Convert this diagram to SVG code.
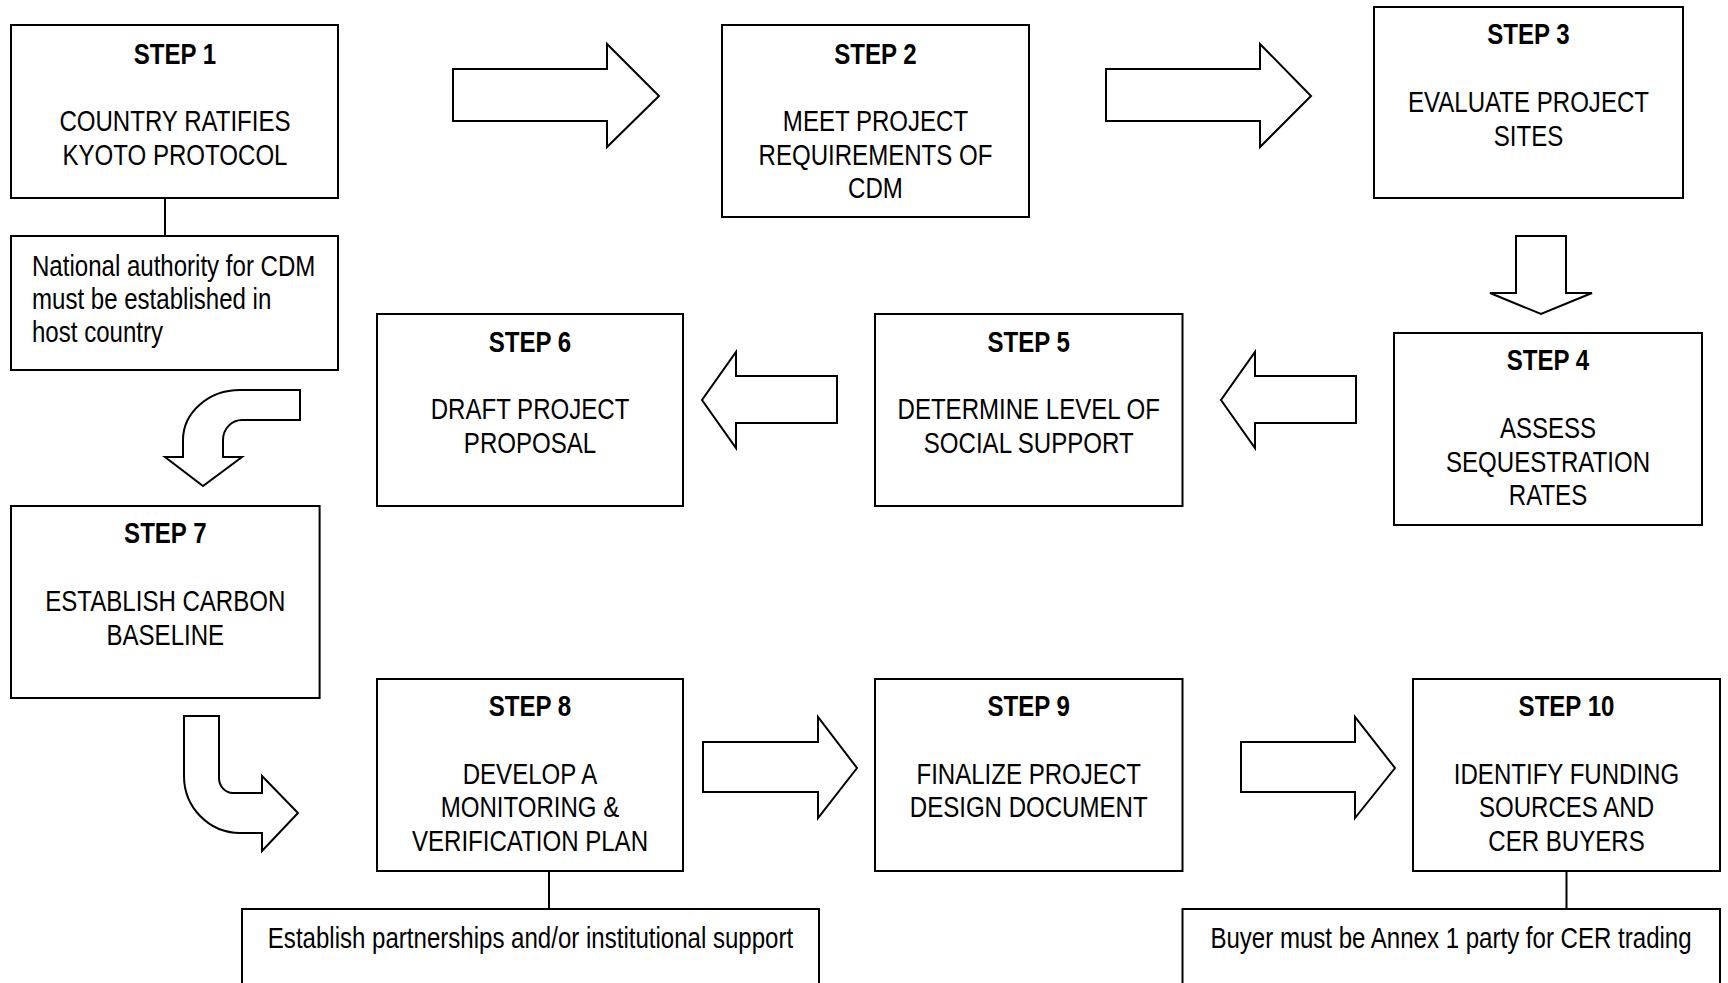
<svg xmlns="http://www.w3.org/2000/svg" width="1728" height="983" viewBox="0 0 1728 983">
<style>
.box{fill:#fff;stroke:#000;stroke-width:2}
.arr{fill:#fff;stroke:#000;stroke-width:2;stroke-linejoin:miter}
.ln{stroke:#000;stroke-width:2;fill:none}
text{font-family:"Liberation Sans",Arial,sans-serif;font-size:29px;fill:#000}
.t{text-anchor:middle}
.b{font-weight:bold}
</style>
<rect width="1728" height="983" fill="#fff"/>
<g id="connectors">
<line class="ln" x1="165" y1="198" x2="165" y2="236"/>
<line class="ln" x1="549" y1="871" x2="549" y2="909"/>
<line class="ln" x1="1566.5" y1="871" x2="1566.5" y2="909"/>
<polygon class="arr" points="453,69 607,69 607,44 659,96 607,147 607,121 453,121"/>
<polygon class="arr" points="1106,69 1260,69 1260,44 1311,96 1260,147 1260,121 1106,121"/>
<polygon class="arr" points="1516,236 1566,236 1566,293 1592,293 1541,314 1490,293 1516,293"/>
<polygon class="arr" points="1356,376 1255,376 1255,352 1221,400 1255,448 1255,423 1356,423"/>
<polygon class="arr" points="837,376 736,376 736,352 702,400 736,448 736,423 837,423"/>
<polygon class="arr" points="703,742 818,742 818,717 857,768 818,818 818,792 703,792"/>
<polygon class="arr" points="1241,742 1355,742 1355,717 1395,768 1355,818 1355,792 1241,792"/>
<path class="arr" d="M300,390 L240,390 A57,50 0 0 0 183,440 L183,457 L165,457 L203,486 L242,457 L223,457 L223,440 A19,20 0 0 1 242,420 L300,420 Z"/>
<path class="arr" d="M184,716 L219,716 L219,778 A14,15 0 0 0 233,793 L262,793 L262,776 L298,813 L262,851 L262,833 L240,833 A56,57 0 0 1 184,776 Z"/>
</g>
<g id="step1">
<rect class="box" x="11" y="25" width="327" height="173"/>
<g transform="translate(175,0) scale(0.83,1)">
<text class="t b" x="0" y="64">STEP 1</text>
<text class="t" x="0" y="131">COUNTRY RATIFIES</text>
<text class="t" x="0" y="165">KYOTO PROTOCOL</text>
</g>
</g>
<g id="note1">
<rect class="box" x="11" y="236" width="327" height="134"/>
<g transform="translate(32,0) scale(0.83,1)">
<text x="0" y="276">National authority for CDM</text>
<text x="0" y="309">must be established in</text>
<text x="0" y="342">host country</text>
</g>
</g>
<g id="step2">
<rect class="box" x="722" y="25" width="307" height="192"/>
<g transform="translate(875.5,0) scale(0.83,1)">
<text class="t b" x="0" y="64">STEP 2</text>
<text class="t" x="0" y="131">MEET PROJECT</text>
<text class="t" x="0" y="165">REQUIREMENTS OF</text>
<text class="t" x="0" y="198">CDM</text>
</g>
</g>
<g id="step3">
<rect class="box" x="1374" y="7" width="309" height="191"/>
<g transform="translate(1528.5,0) scale(0.83,1)">
<text class="t b" x="0" y="44">STEP 3</text>
<text class="t" x="0" y="112">EVALUATE PROJECT</text>
<text class="t" x="0" y="146">SITES</text>
</g>
</g>
<g id="step4">
<rect class="box" x="1394" y="333" width="308" height="192"/>
<g transform="translate(1548,0) scale(0.83,1)">
<text class="t b" x="0" y="370">STEP 4</text>
<text class="t" x="0" y="438">ASSESS</text>
<text class="t" x="0" y="472">SEQUESTRATION</text>
<text class="t" x="0" y="505">RATES</text>
</g>
</g>
<g id="step5">
<rect class="box" x="875" y="314" width="307.5" height="192"/>
<g transform="translate(1028.7,0) scale(0.83,1)">
<text class="t b" x="0" y="352">STEP 5</text>
<text class="t" x="0" y="419">DETERMINE LEVEL OF</text>
<text class="t" x="0" y="453">SOCIAL SUPPORT</text>
</g>
</g>
<g id="step6">
<rect class="box" x="377" y="314" width="306" height="192"/>
<g transform="translate(530,0) scale(0.83,1)">
<text class="t b" x="0" y="352">STEP 6</text>
<text class="t" x="0" y="419">DRAFT PROJECT</text>
<text class="t" x="0" y="453">PROPOSAL</text>
</g>
</g>
<g id="step7">
<rect class="box" x="11" y="506" width="308.6" height="192"/>
<g transform="translate(165.3,0) scale(0.83,1)">
<text class="t b" x="0" y="543">STEP 7</text>
<text class="t" x="0" y="611">ESTABLISH CARBON</text>
<text class="t" x="0" y="645">BASELINE</text>
</g>
</g>
<g id="step8">
<rect class="box" x="377" y="679" width="306" height="192"/>
<g transform="translate(530,0) scale(0.83,1)">
<text class="t b" x="0" y="716">STEP 8</text>
<text class="t" x="0" y="784">DEVELOP A</text>
<text class="t" x="0" y="817">MONITORING &amp;</text>
<text class="t" x="0" y="851">VERIFICATION PLAN</text>
</g>
</g>
<g id="step9">
<rect class="box" x="875" y="679" width="307.5" height="192"/>
<g transform="translate(1028.7,0) scale(0.83,1)">
<text class="t b" x="0" y="716">STEP 9</text>
<text class="t" x="0" y="784">FINALIZE PROJECT</text>
<text class="t" x="0" y="817">DESIGN DOCUMENT</text>
</g>
</g>
<g id="step10">
<rect class="box" x="1413" y="679" width="307" height="192"/>
<g transform="translate(1566.5,0) scale(0.83,1)">
<text class="t b" x="0" y="716">STEP 10</text>
<text class="t" x="0" y="784">IDENTIFY FUNDING</text>
<text class="t" x="0" y="817">SOURCES AND</text>
<text class="t" x="0" y="851">CER BUYERS</text>
</g>
</g>
<g id="note8">
<rect class="box" x="242" y="909" width="577" height="100"/>
<g transform="translate(530.5,0) scale(0.83,1)">
<text class="t" x="0" y="948">Establish partnerships and/or institutional support</text>
</g>
</g>
<g id="note10">
<rect class="box" x="1182.5" y="909" width="537.5" height="100"/>
<g transform="translate(1451,0) scale(0.83,1)">
<text class="t" x="0" y="948">Buyer must be Annex 1 party for CER trading</text>
</g>
</g>
</svg>
